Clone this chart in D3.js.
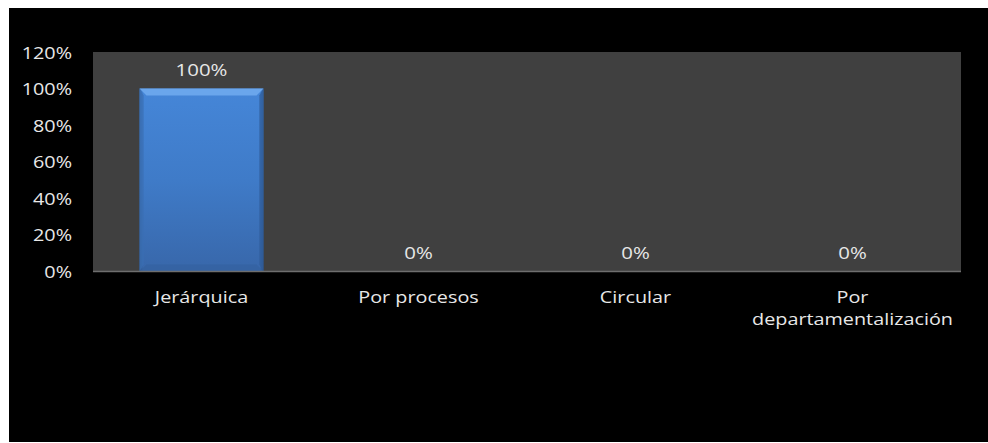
<!DOCTYPE html>
<html>
<head>
<meta charset="utf-8">
<script src="https://cdn.jsdelivr.net/npm/d3@7"></script>
<style>
  html, body { margin: 0; padding: 0; background: #ffffff; }
  svg { display: block; }
  text { font-family: "Open Sans", "DejaVu Sans", sans-serif; fill: #e8e8e8; }
</style>
</head>
<body>
<svg id="chart" width="988" height="443"></svg>
<script>
const categories = ["Jerárquica", "Por procesos", "Circular", "Por departamentalización"];
const values = [1.0, 0.0, 0.0, 0.0];
const valueLabels = ["100%", "0%", "0%", "0%"];
const yTicks = [0, 0.2, 0.4, 0.6, 0.8, 1.0, 1.2];
const yTickLabels = ["0%", "20%", "40%", "60%", "80%", "100%", "120%"];
const categoryLines = [["Jerárquica"], ["Por procesos"], ["Circular"], ["Por", "departamentalización"]];

const W = 988, H = 443;
const plot = { left: 93, top: 52, right: 961, bottom: 271.5 };
const STRETCH = 1.2;

const svg = d3.select("#chart");

svg.append("rect").attr("x", 0).attr("y", 0).attr("width", W).attr("height", H).attr("fill", "#ffffff");
svg.append("rect").attr("x", 9).attr("y", 8).attr("width", W - 9).attr("height", H - 8 - 1).attr("fill", "#000000");

svg.append("rect")
  .attr("x", plot.left).attr("y", plot.top)
  .attr("width", plot.right - plot.left).attr("height", plot.bottom - plot.top)
  .attr("fill", "#404040");

const x = d3.scaleBand().domain(categories).range([plot.left, plot.right]).paddingInner(0.4286).paddingOuter(0.2143);
const y = d3.scaleLinear().domain([0, 1.2]).range([plot.bottom, plot.top]);

const defs = svg.append("defs");
const g1 = defs.append("linearGradient").attr("id", "barGrad").attr("x1", 0).attr("y1", 0).attr("x2", 0).attr("y2", 1);
g1.append("stop").attr("offset", "0%").attr("stop-color", "#4586d8");
g1.append("stop").attr("offset", "50%").attr("stop-color", "#3f7bc8");
g1.append("stop").attr("offset", "100%").attr("stop-color", "#3867aa");
const g2 = defs.append("linearGradient").attr("id", "sideGrad").attr("x1", 0).attr("y1", 0).attr("x2", 1).attr("y2", 0);
g2.append("stop").attr("offset", "0%").attr("stop-color", "#000").attr("stop-opacity", 0.18);
g2.append("stop").attr("offset", "3%").attr("stop-color", "#000").attr("stop-opacity", 0);
g2.append("stop").attr("offset", "97%").attr("stop-color", "#000").attr("stop-opacity", 0);
g2.append("stop").attr("offset", "100%").attr("stop-color", "#000").attr("stop-opacity", 0.22);

const bars = svg.append("g");
categories.forEach((c, i) => {
  const bx = x(c), bw = x.bandwidth();
  const by = y(values[i]), bh = y(0) - y(values[i]);
  if (bh <= 0) return;
  bars.append("rect").attr("x", bx).attr("y", by).attr("width", bw).attr("height", bh).attr("fill", "url(#barGrad)");
  bars.append("rect").attr("x", bx).attr("y", by).attr("width", bw).attr("height", bh).attr("fill", "url(#sideGrad)");
  const bev = Math.min(7, bh / 2);
  bars.append("path")
    .attr("d", `M${bx},${by} L${bx + bw},${by} L${bx + bw - bev},${by + bev} L${bx + bev},${by + bev} Z`)
    .attr("fill", "#6aa6ec");
  bars.append("path")
    .attr("d", `M${bx},${by + bh} L${bx + bw},${by + bh} L${bx + bw - bev},${by + bh - bev} L${bx + bev},${by + bh - bev} Z`)
    .attr("fill", "#33609e").attr("opacity", 0.6);
  bars.append("path")
    .attr("d", `M${bx},${by} L${bx + bev * 0.6},${by + bev} L${bx + bev * 0.6},${by + bh - bev} L${bx},${by + bh} Z`)
    .attr("fill", "#3a6fb4").attr("opacity", 0.7);
  bars.append("path")
    .attr("d", `M${bx + bw},${by} L${bx + bw - bev * 0.6},${by + bev} L${bx + bw - bev * 0.6},${by + bh - bev} L${bx + bw},${by + bh} Z`)
    .attr("fill", "#2f5d9a").attr("opacity", 0.7);
});

svg.append("line")
  .attr("x1", plot.left).attr("x2", plot.right)
  .attr("y1", y(0)).attr("y2", y(0))
  .attr("stroke", "#6e6e6e").attr("stroke-width", 1.5);

svg.append("g").selectAll("text").data(categories).join("text")
  .attr("transform", (c, i) => `translate(${x(c) + x.bandwidth() / 2},${y(values[i]) - 13}) scale(${STRETCH},1)`)
  .attr("text-anchor", "middle")
  .attr("font-size", "17px")
  .text((c, i) => valueLabels[i]);

const yAxis = d3.axisLeft(y).tickValues(yTicks).tickSize(0).tickPadding(0)
  .tickFormat((d, i) => yTickLabels[i]);
const yg = svg.append("g").attr("transform", `translate(72,0)`).call(yAxis);
yg.select(".domain").remove();
yg.selectAll("text")
  .attr("x", 0).attr("dy", null)
  .attr("transform", `translate(0,6) scale(${STRETCH},1)`)
  .attr("font-size", "16.5px").attr("fill", "#e8e8e8")
  .style("font-family", "'Open Sans', sans-serif");

const xAxis = d3.axisBottom(x).tickSize(0).tickFormat(() => "");
const xg = svg.append("g").attr("transform", `translate(0,${plot.bottom})`).call(xAxis);
xg.select(".domain").remove();
xg.selectAll(".tick").each(function(c, i) {
  const t = d3.select(this);
  t.selectAll("text").remove();
  categoryLines[i].forEach((line, j) => {
    t.append("text")
      .attr("transform", `translate(0,${31 + j * 22.5}) scale(${STRETCH},1)`)
      .attr("text-anchor", "middle")
      .attr("font-size", "16.5px")
      .attr("fill", "#e8e8e8")
      .style("font-family", "'Open Sans', sans-serif")
      .text(line);
  });
});
</script>
</body>
</html>
